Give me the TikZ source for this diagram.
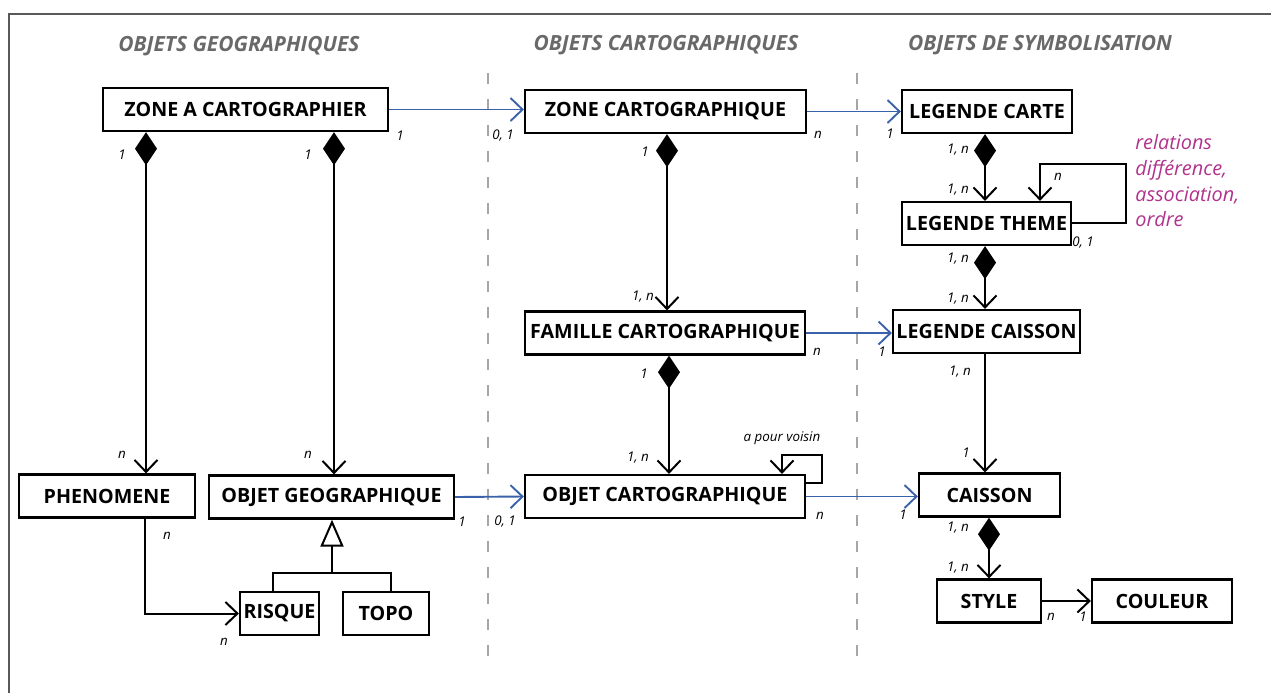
\documentclass[tikz,border=0pt]{standalone}
\usepackage{fontspec}
\setmainfont{Open Sans}
\usetikzlibrary{arrows.meta}
\definecolor{lienbleu}{RGB}{58,98,170}
\definecolor{titregris}{RGB}{105,105,105}
\definecolor{relrose}{RGB}{176,50,140}
\begin{document}
\begin{tikzpicture}[x=0.2mm,y=-0.2mm,
  classe/.style={draw,line width=0.45mm,inner sep=0pt,minimum height=8.6mm,font=\bfseries\fontsize{11.2}{13}\selectfont},
  card/.style={font=\itshape\fontsize{7.6}{9}\selectfont},
  titre/.style={text=titregris,font=\bfseries\itshape\fontsize{11.9}{14}\selectfont},
  fleche/.style={line width=0.4mm,-{Straight Barb[length=2.4mm,width=4.6mm]}},
  compo/.style={line width=0.4mm,{Diamond[length=6.6mm,width=4.4mm]}-{Straight Barb[length=2.4mm,width=4.6mm]}},
  bleu/.style={fleche,draw=lienbleu,line width=0.38mm},
  separ/.style={draw=black!35,line width=0.35mm,dash pattern=on 2.2mm off 3mm}]
  \useasboundingbox (0,0) rectangle (1271,693);
  \draw[black!65,line width=0.3mm] (9,693) -- (9,14) -- (1271,14);
  \draw[separ] (488,73) -- (488,660);
  \draw[separ] (857,73) -- (857,660);
  \node[titre] (tgeo) at (239,46) {OBJETS GEOGRAPHIQUES};
  \node[titre] (tcarto) at (666,45) {OBJETS CARTOGRAPHIQUES};
  \node[titre] (tsymb) at (1040,45) {OBJETS DE SYMBOLISATION};
  % classes
  \node[classe,minimum width=57mm] (zac) at (245.5,109.5) {ZONE A CARTOGRAPHIER};
  \node[classe,minimum width=35.2mm] (phen) at (107,496) {PHENOMENE};
  \node[classe,minimum width=49mm] (og) at (331.5,497) {OBJET GEOGRAPHIQUE};
  \node[classe,minimum width=15.8mm] (risque) at (279.5,613.5) {RISQUE};
  \node[classe,minimum width=17.2mm] (topo) at (386,613.5) {TOPO};
  \node[classe,minimum width=56.2mm] (zc) at (665.5,111.5) {ZONE CARTOGRAPHIQUE};
  \node[classe,minimum width=56mm] (fc) at (665,333) {FAMILLE CARTOGRAPHIQUE};
  \node[classe,minimum width=56mm] (oc) at (665,496.5) {OBJET CARTOGRAPHIQUE};
  \node[classe,minimum width=34mm] (lcarte) at (987,111.5) {LEGENDE CARTE};
  \node[classe,minimum width=33.8mm] (ltheme) at (986.5,223.5) {LEGENDE THEME};
  \node[classe,minimum width=37.4mm] (lcaisson) at (986.5,331.5) {LEGENDE CAISSON};
  \node[classe,minimum width=28.2mm] (caisson) at (989.5,495) {CAISSON};
  \node[classe,minimum width=20.8mm] (style) at (989,601) {STYLE};
  \node[classe,minimum width=28mm] (couleur) at (1162,601) {COULEUR};
  % liens
  \draw[compo] (zac.south -| 146,0) -- (phen.north -| 146,0);
  \draw[compo] (zac.south -| 334,0) -- (og.north -| 334,0);
  \draw[compo] (zc.south -| 667,0) -- (fc.north -| 667,0);
  \draw[compo] (fc.south -| 669,0) -- (oc.north -| 669,0);
  \draw[compo] (lcarte.south -| 985,0) -- (ltheme.north -| 985,0);
  \draw[compo] (ltheme.south -| 985,0) -- (lcaisson.north -| 985,0);
  \draw[fleche] (lcaisson.south -| 985,0) -- (caisson.north -| 985,0);
  \draw[compo] (caisson.south -| 989,0) -- (style.north -| 989,0);
  \draw[fleche] (style.east) -- (couleur.west);
  \draw[fleche] (phen.south -| 145,0) |- (risque.west);
  \draw[fleche] (oc.east |- 0,483) -| (822,455) -| (oc.north -| 782,0);
  \draw[fleche] (ltheme.east |- 0,223) -| (1126,164) -| (ltheme.north -| 1040,0);
  \draw[bleu] (zac.east) -- (zac.east -| zc.west);
  \draw[bleu] (zc.east) -- (lcarte.west);
  \draw[bleu] (fc.east) -- (fc.east -| lcaisson.west);
  \draw[bleu] (og.east) -- (oc.west);
  \draw[bleu] (oc.east) -- (oc.east -| caisson.west);
  \coordinate (inh) at (332,573);
  \draw[line width=0.4mm] (risque.north -| 273,0) |- (inh) -| (topo.north -| 391,0);
  \draw[line width=0.4mm,-{Triangle[open,length=5.4mm,width=4.6mm]}] (inh) -- (og.south -| inh);
  % cardinalites
  \node[card] (c1) at (400,136) {1};
  \node[card] (c2) at (503,136) {0, 1};
  \node[card] (c3) at (818,135) {n};
  \node[card] (c4) at (890,134) {1};
  \node[card] (c5) at (122,155) {1};
  \node[card] (c6) at (122,455) {n};
  \node[card] (c7) at (308,155) {1};
  \node[card] (c8) at (308,455) {n};
  \node[card] (c9) at (645,152) {1};
  \node[card] (c10) at (643,297) {1, n};
  \node[card] (c11) at (644,374) {1};
  \node[card] (c12) at (638,458) {1, n};
  \node[card] (c13) at (167,536) {n};
  \node[card] (c14) at (224,642) {n};
  \node[card] (c15) at (462,522) {1};
  \node[card] (c16) at (505,522) {0, 1};
  \node[card] (c17) at (820,516) {n};
  \node[card] (c18) at (903,515) {1};
  \node[card] (c19) at (817,352) {n};
  \node[card] (c20) at (882,352) {1};
  \node[card] (c21) at (958,150) {1, n};
  \node[card] (c22) at (958,190) {1, n};
  \node[card] (c23) at (1058,177) {n};
  \node[card] (c24) at (1083,243) {0, 1};
  \node[card] (c25) at (958,259) {1, n};
  \node[card] (c26) at (958,299) {1, n};
  \node[card] (c27) at (960,372) {1, n};
  \node[card] (c28) at (966,453) {1};
  \node[card] (c29) at (958,528) {1, n};
  \node[card] (c30) at (958,568) {1, n};
  \node[card] (c31) at (1051,617) {n};
  \node[card] (c32) at (1083,617) {1};
  \node[card] (voisin) at (782,438) {a pour voisin};
  \node[text=relrose,anchor=north west,align=left,inner sep=0pt,font=\itshape\fontsize{11.3}{14.7}\selectfont] (rel) at (1135,134) {relations\\différence,\\association,\\ordre};
\end{tikzpicture}
\end{document}
